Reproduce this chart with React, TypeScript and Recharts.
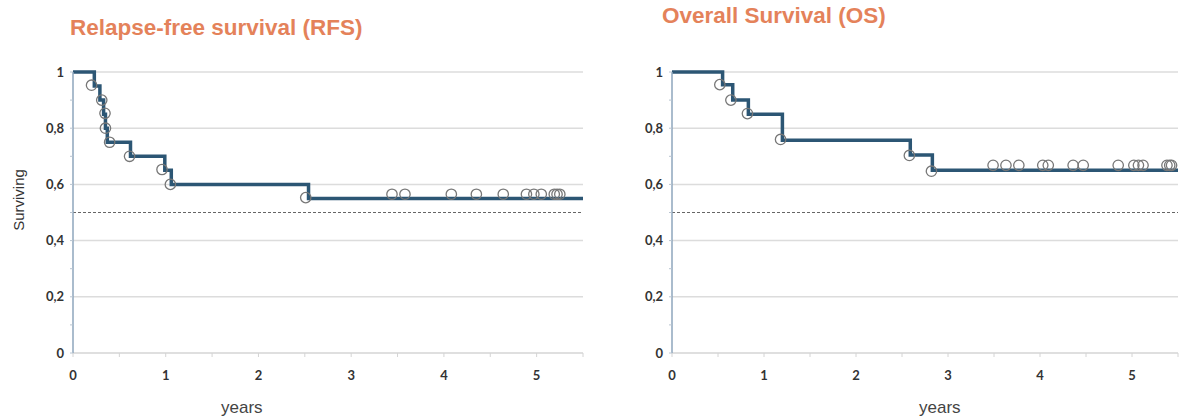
import { ComposedChart, Line, Scatter, XAxis, YAxis, ReferenceLine } from "recharts";

// Relapse-free survival (RFS): step curve
const rfsTimes = [0, 0.23, 0.29, 0.33, 0.35, 0.37, 0.62, 0.99, 1.06, 2.54, 5.5];
const rfsSurv = [1, 0.95, 0.9, 0.85, 0.8, 0.75, 0.7, 0.65, 0.6, 0.55, 0.55];
// RFS event markers
const rfsEventTimes = [0.2, 0.31, 0.345, 0.35, 0.395, 0.61, 0.96, 1.05, 2.51];
const rfsEventSurv = [0.953, 0.9, 0.853, 0.8, 0.75, 0.7, 0.653, 0.6, 0.553];
// RFS censored markers
const rfsCensTimes = [3.44, 3.58, 4.08, 4.35, 4.64, 4.89, 4.97, 5.05, 5.19, 5.22, 5.25];
const rfsCensSurv = [0.565, 0.565, 0.565, 0.565, 0.565, 0.565, 0.565, 0.565, 0.565, 0.565, 0.565];

// Overall survival (OS): step curve
const osTimes = [0, 0.55, 0.66, 0.83, 1.2, 2.59, 2.83, 5.5];
const osSurv = [1, 0.955, 0.9, 0.85, 0.757, 0.705, 0.65, 0.65];
// OS event markers
const osEventTimes = [0.52, 0.64, 0.82, 1.18, 2.58, 2.82];
const osEventSurv = [0.955, 0.9, 0.852, 0.76, 0.703, 0.647];
// OS censored markers
const osCensTimes = [3.49, 3.63, 3.77, 4.03, 4.09, 4.36, 4.47, 4.85, 5.02, 5.07, 5.12, 5.38, 5.41, 5.43];
const osCensSurv = [0.668, 0.668, 0.668, 0.668, 0.668, 0.668, 0.668, 0.668, 0.668, 0.668, 0.668, 0.668, 0.668, 0.668];

const yTicks = [0, 0.1, 0.2, 0.3, 0.4, 0.5, 0.6, 0.7, 0.8, 0.9, 1];
const yLabelled = [0, 0.2, 0.4, 0.6, 0.8, 1];
const xTicks = [0, 0.5, 1, 1.5, 2, 2.5, 3, 3.5, 4, 4.5, 5, 5.5];
const xLabelled = [0, 1, 2, 3, 4, 5];

const zip = (t: number[], s: number[]) => t.map((x, i) => ({ t: x, s: s[i] }));

const tickFont = { fill: "#333", fontSize: 13, fontWeight: 700, fontFamily: "Lato, sans-serif" };

const Ring = (p: any) => (
  <circle cx={p.cx} cy={p.cy} r={5.2} fill="none" stroke="#777" strokeWidth={1.3} />
);

function KMChart({ steps, events, censored, marginLeft, width }: {
  steps: { t: number; s: number }[];
  events: { t: number; s: number }[];
  censored: { t: number; s: number }[];
  marginLeft: number;
  width: number;
}) {
  return (
    <ComposedChart width={width} height={418} margin={{ top: 72, right: 1, left: marginLeft, bottom: 34 }}>
      {yLabelled.slice(1).map((v) => (
        <ReferenceLine key={v} y={v} stroke="#dcdcdc" strokeWidth={1.5} />
      ))}
      <ReferenceLine y={0.5} stroke="#666" strokeDasharray="3 2" strokeWidth={1} />
      <XAxis
        type="number"
        dataKey="t"
        domain={[0, 5.5]}
        ticks={xTicks}
        interval={0}
        allowDataOverflow
        tickFormatter={(v: number) => (xLabelled.includes(v) ? String(v) : "")}
        tick={tickFont}
        tickSize={4}
        tickMargin={14}
        height={31}
        axisLine={{ stroke: "#d4d4d4", strokeWidth: 1.5 }}
        tickLine={{ stroke: "#d4d4d4" }}
      />
      <YAxis
        type="number"
        domain={[0, 1]}
        ticks={yTicks}
        interval={0}
        tickFormatter={(v: number) => (yLabelled.includes(v) ? String(v).replace(".", ",") : "")}
        tick={tickFont}
        tickSize={3}
        tickMargin={6}
        width={40}
        axisLine={{ stroke: "#8ea6bc", strokeWidth: 1.5 }}
        tickLine={{ stroke: "#b8c4d0" }}
      />
      <Line
        data={steps}
        dataKey="s"
        type="stepAfter"
        stroke="#2c5674"
        strokeWidth={3.5}
        dot={false}
        activeDot={false}
        isAnimationActive={false}
      />
      <Scatter data={events} dataKey="s" shape={Ring} isAnimationActive={false} />
      <Scatter data={censored} dataKey="s" shape={Ring} isAnimationActive={false} />
    </ComposedChart>
  );
}

const titleStyle: React.CSSProperties = {
  position: "absolute",
  color: "#e4825a",
  fontFamily: "'Liberation Sans', Arial, sans-serif",
  fontWeight: 700,
  fontSize: 22.5,
  whiteSpace: "nowrap",
};

const yearsStyle: React.CSSProperties = {
  position: "absolute",
  color: "#444",
  fontFamily: "'Liberation Sans', Arial, sans-serif",
  fontSize: 17,
  top: 398,
};

export default function App() {
  return (
    <div style={{ position: "absolute", left: 0, top: 0, width: 1179, height: 418, background: "#fff", overflow: "hidden" }}>
      <div style={{ position: "absolute", left: 0, top: 0 }}>
        <KMChart
          steps={zip(rfsTimes, rfsSurv)}
          events={zip(rfsEventTimes, rfsEventSurv)}
          censored={zip(rfsCensTimes, rfsCensSurv)}
          marginLeft={33}
          width={584}
        />
      </div>
      <div style={{ position: "absolute", left: 600, top: 0 }}>
        <KMChart
          steps={zip(osTimes, osSurv)}
          events={zip(osEventTimes, osEventSurv)}
          censored={zip(osCensTimes, osCensSurv)}
          marginLeft={32}
          width={579}
        />
      </div>
      <div style={{ ...titleStyle, left: 70, top: 15 }}>Relapse-free survival (RFS)</div>
      <div style={{ ...titleStyle, left: 662, top: 3 }}>Overall Survival (OS)</div>
      <div
        style={{
          position: "absolute",
          left: 18,
          top: 200,
          transform: "translate(-50%, -50%) rotate(-90deg)",
          fontFamily: "'Liberation Sans', Arial, sans-serif",
          fontSize: 15,
          color: "#333",
          whiteSpace: "nowrap",
        }}
      >
        Surviving
      </div>
      <div style={{ ...yearsStyle, left: 221 }}>years</div>
      <div style={{ ...yearsStyle, left: 919 }}>years</div>
    </div>
  );
}
